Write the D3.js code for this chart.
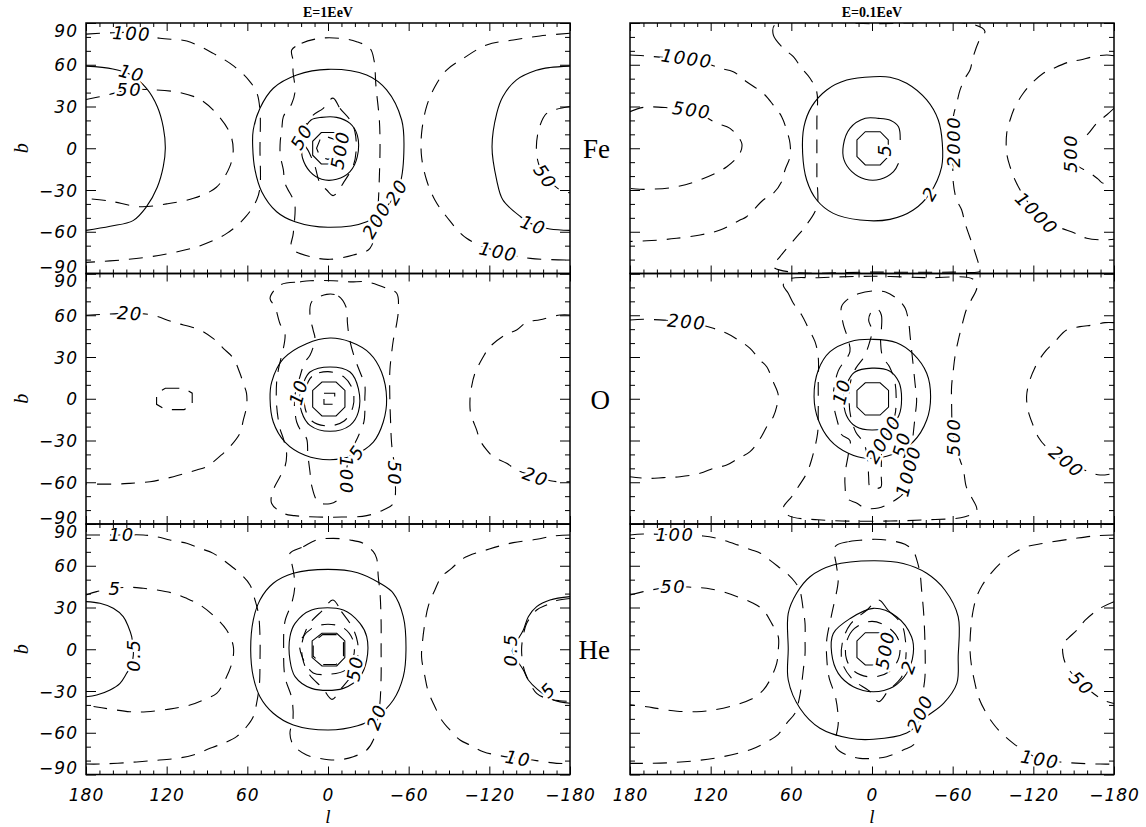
<!DOCTYPE html>
<html><head><meta charset="utf-8">
<script src="https://cdn.jsdelivr.net/npm/d3@7"></script>
<style>
body{margin:0;background:#fff;}
</style></head><body>
<svg id="c" width="1146" height="827" xmlns="http://www.w3.org/2000/svg"></svg>
<script>
// ---------------- data ----------------
const lTicks=[180,120,60,0,-60,-120,-180];
const bTicks=[90,60,30,0,-30,-60,-90];
const energies=["E=1EeV","E=0.1EeV"];
const species=["Fe","O","He"];

// contour lines: dash=true -> dashed quantity; pts in (l, b) degrees
const fe1=[
 {dash:false,closed:false,pts:[[180,59],[160,57],[147,53],[135,43],[127,30],[122.5,15],[121,0],[122.5,-13],[127,-28],[135,-42],[145,-52],[162,-56],[180,-59]]},
 {dash:true,closed:false,pts:[[180,35],[165,38],[148,42],[130,42],[110,40],[95,35],[83,25],[73,11],[70.5,-1],[73,-13],[83,-28],[100,-36],[120,-40],[140,-42],[162,-38],[180,-36]]},
 {dash:true,closed:false,pts:[[180,82],[160,83],[146,83],[125,79],[105,77],[85,68],[70,59],[59,49],[53,40],[50.6,27],[50.6,0],[50.6,-28],[53,-37],[61,-49],[75,-61],[95,-70],[120,-76],[150,-80],[180,-82]]},
 {dash:false,closed:false,pts:[[-180,59],[-165,58],[-155,56],[-140,49],[-130,37],[-125.5,25],[-122,1],[-125.5,-23],[-130,-37],[-143,-49],[-153,-55],[-165,-58],[-180,-59]]},
 {dash:true,closed:false,pts:[[-180,30],[-170,28],[-162.6,25],[-157.4,15.5],[-155,1],[-156.6,-11],[-161.5,-20],[-172.6,-30],[-180,-32]]},
 {dash:true,closed:false,pts:[[-180,82.6],[-157.7,80.7],[-137.8,77.8],[-118,74.2],[-100.6,64.6],[-88.2,56.2],[-79.5,44.2],[-73.3,29.9],[-69.6,10.7],[-69.6,-6.1],[-73.3,-22.8],[-79.5,-37.2],[-88.2,-49.2],[-103.1,-64.7],[-126.7,-74.3],[-150.5,-79.1],[-180,-80.3]]},
 {dash:false,closed:true,pts:[[0,56.7],[23.3,52.6],[40.7,43.1],[50.6,28.7],[55.6,13.1],[56,1],[54.3,-15.6],[49.3,-31.2],[38.2,-45.6],[24.5,-52.8],[0,-56.8],[-28.8,-52.8],[-43.6,-42],[-53.6,-25.2],[-56.5,1],[-54.8,20.3],[-43.6,41.9],[-28.8,52.6]]},
 {dash:true,closed:true,pts:[[27,70.6],[19.6,75.4],[6,79],[-8.9,79],[-21.3,76.6],[-31.2,71.8],[-34.2,63.4],[-35.7,44.2],[-38.2,20.3],[-38.7,1],[-38.2,-20.4],[-37.5,-37.2],[-36.2,-51.6],[-31.2,-71.9],[-18.8,-76.7],[-1.5,-79.8],[10.9,-78.4],[27,-71.9],[25.8,-61],[24.5,-42],[25.8,-37],[32,-25],[33.2,-15.6],[35.5,-5],[35.5,5],[34.4,13],[33.2,22.7],[27,32],[24.5,41],[26,55],[26,63]]},
 {dash:true,closed:true,pts:[[-3.7,36],[-8.9,28.7],[-16.4,20.3],[-20,12],[-21,0],[-19,-12],[-12,-24],[-4,-34],[1,-30],[6,-25],[9.7,-13],[14,-3],[19.6,8],[12.2,22.7],[3.5,28.7]]},
 {dash:false,closed:true,pts:[[4.7,22.2],[-6.4,22.2],[-16.4,17.9],[-21.8,9.5],[-21.8,-6.1],[-16.4,-16.8],[-6.4,-22.3],[4.7,-22.3],[13.4,-16.8],[18.9,-7.2],[19.6,1.1],[18,12],[12.6,20.3]]},
 {dash:false,closed:true,pts:[[5,11.3],[-5,11.3],[-11.4,5],[-11.4,-5],[-5,-11.3],[5,-11.3],[11.4,-5],[11.4,5]]},
 {dash:true,closed:true,pts:[[0,8],[-6,6],[-8.5,0],[-6,-6],[0,-8],[6,-6],[8.5,0],[6,6]]}
];
const fe1Labels=[["100",146,82.5,3],["10",146,54,15],["50",147.8,41.9,0],["50",19.6,8.3,-60],["500",-8.9,-1.3,-80],["200",-36.2,-51.6,-60],["20",-51.1,-31.2,-60],["50",-161.5,-20.4,55],["10",-152.7,-55.2,20],["100",-126.7,-74.3,12]];

const fe01=[
 {dash:true,closed:false,pts:[[180,67],[170,66.5],[158,65.5],[137.8,64.6],[120,60],[113,57.4],[103.2,55],[93.3,47.8],[80.9,39.5],[73.4,31],[67.2,22.7],[63.5,13],[61,3.6],[61,-6],[64.7,-15.6],[67.2,-24],[73.4,-32.4],[80.9,-37.2],[93.3,-49.2],[98.2,-51.6],[113,-58.8],[127.9,-62.3],[145.3,-64.7],[157.7,-65.9],[180,-67]]},
 {dash:true,closed:false,pts:[[180,26.3],[170,29.4],[150,29],[134,27.5],[115.5,18],[105.6,14.3],[96.9,3.6],[98.2,-3.6],[108,-13.3],[128,-22.8],[148,-28.1],[172.6,-29.5],[180,-28.8]]},
 {dash:true,closed:true,pts:[[72,89],[73.4,81.4],[66,71.8],[58.5,65.8],[52.3,57.4],[46.1,50.3],[41.1,40.6],[41,20],[41,0],[41,-20],[41,-42],[49.8,-56.4],[54.8,-62.3],[62.3,-70.7],[68.4,-77.9],[73.4,-85],[60,-89],[0,-89],[-60,-89],[-81,-88],[-79,-82],[-75,-70],[-69.2,-53.9],[-66.7,-44.4],[-63,-37.2],[-60.5,-25],[-60.4,5],[-60.5,22.7],[-63,32.3],[-65.5,41.9],[-69.2,50.3],[-72.9,56.2],[-75.3,65.8],[-80,78],[-84,84],[-75,89],[0,89.5]]},
 {dash:false,closed:true,pts:[[-1,51.4],[18.8,49],[33.7,41.9],[44.9,29.9],[50.6,15.5],[51.6,-3.6],[48.6,-22.8],[41.1,-37.2],[28.8,-46.8],[8.9,-51.6],[-13.4,-51.1],[-30.7,-44.4],[-43.1,-32.4],[-51.8,-13.3],[-52.3,3.6],[-49.3,20.3],[-40.7,34.7],[-25.8,46.7],[-13.4,51]]},
 {dash:false,closed:false,pts:[[-21,6],[-19.7,15.5],[-14,20],[-4.7,21.5],[5,21.5],[16.4,14.3],[21.3,2.3],[20.8,-8.4],[15,-16.8],[5,-22.3],[-6.1,-22.3],[-16,-16.8],[-19.7,-10.8]]},
 {dash:false,closed:true,pts:[[5,11.9],[-6.1,11.9],[-12.1,6],[-12.1,-6],[-6.1,-12],[5,-12],[11.2,-6],[11.2,6]]},
 {dash:true,closed:false,pts:[[-180,66.5],[-174.5,67],[-164.6,65.8],[-154.7,63.4],[-147.3,62.2],[-134.9,57.4],[-127.4,53.9],[-117.5,45.4],[-112.5,39.5],[-106.4,29.9],[-102.7,20.3],[-100.2,10.7],[-100.2,-3.6],[-102.7,-13.3],[-106.4,-22.8],[-112,-33],[-122.5,-46.8],[-135,-55],[-151,-61.1],[-159.7,-64.7],[-171.9,-65.9],[-180,-65.4]]},
 {dash:true,closed:false,pts:[[-180,28.7],[-174.5,23.9],[-167,17.9],[-161,10.7],[-152,3],[-147.3,-3.6],[-152,-12],[-161,-17],[-168,-22],[-172,-25.2],[-180,-22]]}
];
const fe01Labels=[["1000",137.8,64.6,8],["500",134.1,27.5,8],["5",-9.6,-1.3,-90],["2",-43.1,-32.4,-60],["2000",-60.4,4.7,-90],["500",-147.3,-3.6,-90],["1000",-122.5,-46.8,45]];

const o1=[
 {dash:true,closed:false,pts:[[180,60],[170,60.5],[147.3,61.4],[131.2,60.2],[115,55],[95.2,49.4],[85,43],[77.9,36.2],[70.4,29.1],[65.5,18.3],[63,11.1],[60.6,3.9],[60.6,-5.7],[63,-15.3],[65.5,-24.8],[72.9,-34.5],[77.9,-39.2],[90.3,-48.8],[97.7,-51.2],[115,-56],[132.4,-59.6],[147.3,-60.8],[157.2,-61.3],[180,-61.3]]},
 {dash:true,closed:true,pts:[[121,7.5],[107,7.5],[101,4],[101,-5],[107,-7.8],[121,-7.8],[127.5,-4],[127.5,4]]},
 {dash:true,closed:false,pts:[[-180,60.2],[-172.6,60.2],[-157.7,56.8],[-147.8,55],[-140.3,49.4],[-131.6,45.8],[-120.5,37.4],[-115.5,30.2],[-109.3,18.3],[-106.8,8.7],[-105.6,-1],[-106.1,-10.5],[-110.6,-22.5],[-113,-29.7],[-118,-36.8],[-122.9,-41.6],[-132.9,-46.4],[-140.3,-51.2],[-154.5,-56],[-170,-59.6],[-180,-59.6]]},
 {dash:false,closed:true,pts:[[-1.5,43.6],[16,39.6],[33.2,28.8],[41.9,12],[43.1,0],[40.7,-16.7],[32,-31.1],[17.1,-40.6],[-1.5,-43.8],[-18.8,-40.6],[-33.7,-31.1],[-41.1,-16.7],[-43.6,0],[-39.8,19.2],[-31.2,32.5],[-16.4,40.9]]},
 {dash:false,closed:true,pts:[[-1.5,22.8],[13.4,19.2],[18.4,11],[20.8,2.5],[19.6,-9.5],[13.4,-19.1],[-1.5,-23.4],[-16.4,-19.1],[-22.6,-9.5],[-22.6,7.2],[-16.4,19.2]]},
 {dash:false,closed:true,pts:[[4.5,12],[-6,12],[-12.6,6],[-12.6,-6],[-6,-12.4],[4.5,-12.4],[11.4,-6],[11.4,6]]},
 {dash:true,closed:true,pts:[[3,4],[-5,4],[-5,-4],[3,-4]]},
 {dash:true,closed:true,pts:[[35.7,81.7],[20.8,84],[13.4,84.8],[-3.9,84.8],[-16.4,84],[-28.8,84],[-43.6,79.4],[-51.1,75.8],[-52.3,63.8],[-51.1,54.2],[-48.6,42.2],[-47.3,32.6],[-46,20],[-46,0],[-46.5,-15],[-47.3,-32],[-49.8,-53.6],[-48.6,-75.1],[-41.1,-79.9],[-28.8,-84],[-10,-85],[8,-85],[25,-84],[33.2,-82.3],[42,-75.1],[40.7,-65.6],[35.7,-56],[32,-48.8],[30.8,-39.2],[33.2,-28.7],[35.7,-21.5],[38.2,-5],[38.2,12],[37,20.4],[32,46.8],[35.7,53.9],[39.4,66.1],[43.1,72.2]]},
 {dash:true,closed:true,pts:[[1,75],[-7.7,73.8],[-13.9,64.7],[-14.4,55.1],[-16,43],[-20,28.8],[-23.8,19.2],[-27.4,9.7],[-27.4,0],[-27.4,-9.5],[-26.7,-16.7],[-22,-28],[-17,-38],[-13.9,-50],[-12,-62],[-8,-72],[-1.5,-75.4],[7.2,-74.2],[12.2,-62.2],[13.4,-52.6],[15,-40],[15.9,-28.7],[19.6,-23.9],[23.3,-16.7],[24.5,-9.5],[25,0],[22,12],[17.1,26.4],[13.4,31.2],[9.7,43.2],[11,49.2],[13.4,59.9],[12.2,69.5]]},
 {dash:true,closed:true,pts:[[0,19.5],[12,16],[17,5],[17,-7],[12,-16],[0,-19.5],[-12,-16],[-18.5,-6],[-18.5,6],[-12,15.5]]}
];
const o1Labels=[["20",147.3,61.4,3],["20",-154.5,-56,20],["10",22,4.8,-75],["5",-21.3,-38.3,-55],["100",-13.9,-55,90],["50",-49.8,-53.6,90]];

const o01=[
 {dash:true,closed:false,pts:[[180,56.6],[170.1,57.1],[155,56.5],[137.8,55.4],[118,50.6],[108.1,47],[99.4,42.2],[90.7,36.2],[83.3,27.8],[78.3,23],[73.4,12],[69.7,2.5],[70.9,-5.7],[73.4,-12.9],[78.3,-20.1],[83.3,-28.8],[90.7,-38],[99.4,-42.8],[108.1,-47.6],[118,-50],[127.9,-53.6],[142.8,-56],[155.2,-56.7],[167.6,-57.2],[180,-56]]},
 {dash:true,closed:false,pts:[[-180,54.7],[-173.3,54.7],[-164.6,53],[-154.7,51.8],[-144.7,49.4],[-136,41],[-128,33],[-121,22],[-117,12],[-115,2],[-116,-8],[-119,-17],[-124,-28],[-130,-35],[-144.7,-45.2],[-160,-52],[-169.6,-54.8],[-180,-53.6]]},
 {dash:false,closed:true,pts:[[-1,42.7],[16.4,41],[31.2,33.8],[39.9,20.7],[43.1,1.5],[39.9,-15.3],[31.2,-29.7],[17.6,-39.2],[3.9,-42.8],[-15,-40],[-30.7,-30.9],[-40.7,-15.3],[-43.6,1.5],[-40.7,18.3],[-30.7,32.2],[-18.3,40.3]]},
 {dash:false,closed:true,pts:[[0,22],[13,19],[19,10],[21,0],[19,-12],[12,-20],[0,-22.5],[-13,-20],[-20,-12],[-22,0],[-20,12],[-13,20]]},
 {dash:false,closed:true,pts:[[5,11.5],[-6,11.5],[-12.3,6],[-12.3,-6],[-6,-11.7],[5,-11.7],[11.2,-6],[11.2,6]]},
 {dash:true,closed:true,pts:[[66,81.7],[62.3,75.8],[58.5,68.6],[52.3,60.2],[47.3,50.6],[42.4,41],[40,30],[40,10],[40,-10],[40.5,-25],[45,-44],[48.6,-53.6],[54.8,-63.2],[59.8,-70.4],[66,-78.7],[62,-84],[40,-87],[0,-88],[-40,-87],[-69.2,-84.8],[-77.9,-80],[-73.8,-70.4],[-70.1,-63.2],[-68,-51.2],[-65.5,-44],[-60.4,-27.4],[-59.2,-3.3],[-59.2,8.7],[-60.5,20.7],[-61.7,30.2],[-64.2,42.2],[-66.7,51.8],[-70.1,63.8],[-73.8,71],[-78,80],[-75,86],[-40,87],[0,88],[40,87],[62,86]]},
 {dash:true,closed:true,pts:[[17.6,71.8],[10.2,75.4],[-0.2,77.4],[-10.1,76.7],[-19.7,71],[-24.7,65],[-27.2,55.4],[-28.4,44.6],[-30,30],[-32,11.1],[-33.2,-1],[-32,-13],[-30.7,-25],[-29,-40],[-28.3,-53.6],[-23.3,-68],[-14.6,-74.3],[-4.7,-78.5],[5.2,-78.5],[11.2,-75.1],[18.6,-71.5],[20,-63.2],[20,-53.6],[17.6,-40],[16.4,-30],[22.7,-25.7],[25.1,-18.5],[28.8,-3.3],[28.8,3.9],[25.1,20],[16.4,33.8],[17.6,42.2],[21.5,54.2],[22.7,66.1]]},
 {dash:true,closed:true,pts:[[-4.5,64],[-7,60],[-7,50],[-6.4,41],[-8,30],[-13,23],[-17,12],[-18,0],[-17,-12],[-13,-22],[-8,-30],[-7,-45],[-6.9,-56],[-6.5,-63.6],[1.3,-63.6],[2.5,-56],[3,-45],[6,-32],[12,-24],[16,-12],[17,0],[16,12],[12,22],[6,30],[2,40],[0,49.4],[2.5,56.6],[0,63]]}
];
const o01Labels=[["200",137.8,55.4,5],["200",-144.7,-45.2,40],["10",22.7,5.1,-75],["2000",-8.4,-29,-60],["50",-22,-33,-75],["1000",-27,-52,-75],["500",-60.4,-27.4,-90]];

const he1=[
 {dash:true,closed:false,pts:[[180,82.1],[169.6,82.1],[153.5,82.1],[137.4,82.1],[127.5,80.9],[117.5,78.5],[105.1,76.1],[95.2,72.5],[85.3,68.9],[75,62],[64.2,53.4],[58,46.2],[54.3,35.4],[51.8,25.8],[50.6,10],[50.6,-10],[51,-25],[53.1,-38.8],[55.6,-48.5],[60.6,-55.7],[68,-62.8],[77.9,-67.6],[87.8,-71.2],[100.2,-76],[112.5,-78.4],[130,-80],[150,-81.5],[169.6,-82.5],[180,-82.5]]},
 {dash:true,closed:false,pts:[[180,39],[172.1,41.4],[158.4,43.8],[147.3,44.5],[137.4,43.8],[127.5,42.6],[115,40.2],[105.1,36.6],[95.2,31.8],[85,24],[75.4,13.8],[70.4,1.8],[71.5,-10],[77.9,-24.5],[82.8,-31.7],[92.8,-36.5],[102.6,-40.1],[118,-43],[134.9,-44.9],[147.3,-44.9],[162,-43],[172,-41.5],[180,-40.1]]},
 {dash:false,closed:false,pts:[[180,34.2],[169.6,33],[159.7,29.4],[152.3,23.4],[148.5,16.2],[146,9],[144.8,-4.2],[146.5,-12],[149.8,-17.3],[154.7,-24.5],[162.1,-29.3],[172,-32.9],[180,-34.1]]},
 {dash:false,closed:true,pts:[[0,57.4],[25.8,54.6],[40.7,47.4],[50.6,35.4],[55.6,21],[57.5,-0.5],[55.6,-19.7],[50.6,-34.1],[40.7,-46],[25.8,-54.4],[0,-58],[-22,-55],[-36.2,-48.5],[-48.6,-36.5],[-56,-19.7],[-58,-0.5],[-56,23.4],[-48.6,40.2],[-38.7,47.4],[-22,55]]},
 {dash:false,closed:true,pts:[[12.2,28.2],[-11.4,28.2],[-23.8,18.6],[-28.8,9],[-28.8,-7.7],[-23.8,-19.7],[-11.4,-28.1],[12.2,-28.1],[24.5,-19.7],[28.3,-7.7],[28.3,9],[24.5,18.6]]},
 {dash:false,closed:true,pts:[[4.5,11.5],[-6.5,11.5],[-12.5,6],[-12.5,-6],[-6.5,-12],[4.5,-12],[11.8,-6],[11.8,6]]},
 {dash:true,closed:true,pts:[[4,10.5],[-6,10.5],[-11.5,5],[-11.5,-5],[-6,-11],[4,-11],[11,-5],[11,5]]},
 {dash:true,closed:true,pts:[[0,18],[-12,15],[-18.8,6],[-19,-5],[-13,-15],[0,-18],[11,-17],[19,-6],[20.8,5],[12,15]]},
 {dash:true,closed:true,pts:[[-3.7,35.4],[-10,27],[-18,16],[-22,5],[-22,-6],[-18,-18],[-10,-28],[-3,-36],[4,-28],[14,-18],[19,-6],[19,6],[14,18],[4,28]]},
 {dash:true,closed:true,pts:[[28.3,68.9],[18.4,73.7],[8.4,78.5],[-3.9,79.7],[-16.4,78.5],[-26.3,76.1],[-33.7,70.1],[-36.2,65.3],[-37.4,52.1],[-38.7,40.2],[-39.5,20],[-39.5,0],[-39.5,-20],[-38.5,-40],[-36,-55],[-33.7,-65.2],[-28.8,-72.4],[-18.8,-77.2],[-6.3,-79.6],[6,-78.4],[15.9,-76],[25.8,-68.8],[28.3,-60.5],[26,-50],[27,-35],[32,-20],[33,0],[32,20],[27,33],[24.8,43.8],[25.3,53.4],[27,62]]},
 {dash:true,closed:false,pts:[[-180,82.1],[-167.6,81.4],[-155.2,79],[-137.8,76.6],[-120,72],[-100.6,65.3],[-91.9,58.1],[-84.5,52.1],[-79.5,42.6],[-74.6,31],[-72.1,19],[-70.4,6.5],[-69.6,-5.5],[-72.1,-19.7],[-74.6,-30.5],[-79.5,-41.3],[-84.5,-50.8],[-90.7,-58],[-98.2,-65.2],[-105.6,-68.8],[-115.5,-73.6],[-128,-76.5],[-141.5,-78.4],[-155,-80],[-170,-82],[-180,-82]]},
 {dash:false,closed:false,pts:[[-180,37.8],[-165.1,35.4],[-155.2,30.6],[-149,23.4],[-145.3,13.8],[-140,5],[-137,-1],[-140,-7],[-145.3,-14.9],[-149,-22.1],[-156,-29],[-167.6,-36.5],[-180,-38.8]]},
 {dash:true,closed:false,pts:[[-180,36.5],[-170,35],[-162.6,31.8],[-155.2,28.2],[-147.8,18.6],[-145.3,10.2],[-144,0],[-145.3,-12.5],[-147.8,-19.7],[-155.2,-31.7],[-162.6,-35.3],[-172,-37],[-180,-37.5]]}
];
const he1Labels=[["10",153.5,82.1,0],["5",158.4,43.8,0],["0.5",144.8,-4.2,-90],["50",-20,-13.7,-80],["20",-36.2,-48.5,-70],["0.5",-136,-0.5,-90],["5",-163.9,-29.3,-45],["10",-141.5,-78.4,10]];

const he01=[
 {dash:true,closed:false,pts:[[180,82.1],[170.1,82.8],[146.5,82.1],[125.5,81.4],[115.5,79.7],[100,75],[90,71.5],[83,69],[76,64],[69.7,59.3],[63.5,54.6],[57,48],[53.6,42],[51.1,28],[49.8,18.4],[49.8,6.4],[49.8,-3.2],[51.1,-14.9],[52.3,-24.5],[54,-35],[57.3,-46],[63.5,-53.2],[69.7,-61.1],[77.1,-65.9],[90,-72],[110,-77],[130,-80],[150,-81.5],[170,-82],[180,-82]]},
 {dash:true,closed:false,pts:[[180,39],[170.1,41.4],[147.8,45],[132.9,44.5],[123,43.8],[110,41],[98,37],[88.3,33],[80.9,28.2],[74.6,18.6],[69.7,9],[69.7,-0.5],[70.9,-10.1],[75.9,-22.1],[80.9,-29.3],[90,-36],[105,-41],[118,-43.7],[130.4,-44.9],[145,-44.5],[160,-42.5],[167.6,-41.3],[180,-40]]},
 {dash:false,closed:true,pts:[[-1,63.6],[28.8,60.5],[46.1,52.1],[56.1,40.2],[62.3,25.8],[62.3,0],[62.3,-22.1],[53.6,-42.4],[38.7,-56.8],[16.4,-64],[-1,-64.7],[-25.8,-60.2],[-40.7,-48.3],[-53.2,-38.9],[-63.1,-24.5],[-64.1,-5.3],[-64.1,23.4],[-54.2,42.6],[-40.7,54.6],[-23.2,61.6]]},
 {dash:false,closed:true,pts:[[-1,29.4],[16.4,22],[28.8,11.4],[30,-3],[25.1,-17.3],[13.9,-26.9],[-1,-30.5],[-15.9,-26.9],[-25.8,-17.3],[-30.7,-3],[-29.4,9],[-18.3,23.4]]},
 {dash:false,closed:true,pts:[[5,11.9],[-6,11.9],[-12.3,6],[-12.3,-6],[-6,-11.3],[5,-11.3],[11.2,-6],[11.2,6]]},
 {dash:true,closed:true,pts:[[0,20],[13,15],[19,5],[19,-7],[13,-16],[0,-20],[-13,-16],[-20,-6],[-20,6],[-13,15]]},
 {dash:true,closed:true,pts:[[-5,35.4],[-12,28],[-22,18],[-25,5],[-25,-8],[-22,-20],[-12,-30],[-5,-37.7],[2,-30],[14,-22],[22,-10],[22,5],[16,18],[4,28]]},
 {dash:true,closed:true,pts:[[27.5,73.7],[17.6,77.3],[8.9,78.3],[-2.2,79],[-12.1,78.3],[-24.5,75.4],[-30.7,70.6],[-33.2,64.6],[-35.7,54.6],[-36.9,42.6],[-38.5,25],[-39.5,0],[-39.4,-19.7],[-38.2,-29.3],[-35.7,-46],[-32,-67.6],[-23.2,-72.4],[-10.9,-77.2],[-1,-78.4],[8.9,-78.4],[18.8,-76],[26.3,-71.2],[27.5,-67.6],[25.1,-53.2],[27,-35],[32,-20],[33.7,-5.6],[33.7,6.4],[30,25],[25.1,49.7],[26.3,59.3]]},
 {dash:true,closed:false,pts:[[-180,82.1],[-167,81.6],[-150,79.5],[-127.4,76.1],[-115,73.7],[-105.1,68.9],[-95.2,61.6],[-88,54],[-82,46],[-77.9,37.8],[-75.3,28.2],[-73.5,15],[-72.9,-0.5],[-74.1,-12.5],[-76.6,-24.5],[-79.1,-34.1],[-85,-46],[-89.9,-53.2],[-95.2,-59.2],[-105.1,-67.6],[-115,-74],[-125,-79],[-140,-81],[-155,-82],[-169.6,-82.5],[-180,-82.5]]},
 {dash:true,closed:false,pts:[[-180,34.2],[-169.6,29.4],[-158.4,20.7],[-153.4,14.7],[-146,8],[-142.3,4.3],[-142.3,-5.3],[-146,-14],[-155.9,-24.5],[-165,-32],[-172,-36.5],[-180,-39]]}
];
const he01Labels=[["100",146.5,82.1,0],["50",147.8,45,0],["500",-9.6,-0.5,-80],["2",-27,-12.5,-70],["200",-35.7,-46,-65],["50",-155.9,-24.5,45],["100",-125,-79,10]];

const panelContours=[[fe1,fe01],[o1,o01],[he1,he01]];
const panelLabels=[[fe1Labels,fe01Labels],[o1Labels,o01Labels],[he1Labels,he01Labels]];

// ---------------- layout ----------------
const colX=[86,630], pw=484, rowY=[23,273.5,524], ph=250.5;
const svg=d3.select("#c");
const defs=svg.append("defs");
const tickFont="'DejaVu Sans', sans-serif";
const minorL=d3.range(-170,180,10).filter(v=>v%60!==0);
const minorB=d3.range(-80,90,10).filter(v=>v%30!==0);
const fmt=d=>d3.format("d")(d);

rowY.forEach((y0,r)=>colX.forEach((x0,c)=>{
  const x=d3.scaleLinear().domain([180,-180]).range([x0,x0+pw]);
  const y=d3.scaleLinear().domain([90,-90]).range([y0,y0+ph]);
  const id=`clip${r}${c}`;
  defs.append("clipPath").attr("id",id).append("rect").attr("x",x0).attr("y",y0).attr("width",pw).attr("height",ph);
  const g=svg.append("g");
  const cg=g.append("g").attr("clip-path",`url(#${id})`);
  panelContours[r][c].forEach(ct=>{
    const cv=ct.closed?(ct.pts.length<=8?d3.curveLinearClosed:d3.curveCatmullRomClosed.alpha(0.5)):d3.curveCatmullRom.alpha(0.5);
    const line=d3.line().x(d=>x(d[0])).y(d=>y(d[1])).curve(cv);
    cg.append("path").attr("d",line(ct.pts)).attr("fill","none").attr("stroke","#000")
      .attr("stroke-width",1.1).attr("stroke-dasharray",ct.dash?"14,10":null);
  });
  // contour labels
  panelLabels[r][c].forEach(([t,l,b,a])=>{
    cg.append("text").attr("transform",`translate(${x(l)},${y(b)}) rotate(${a})`)
      .attr("text-anchor","middle").attr("dy","0.36em")
      .style("font-family",tickFont).style("font-style","italic").style("font-size","18px")
      .style("letter-spacing","1.5px")
      .attr("stroke","#fff").attr("stroke-width",5).attr("paint-order","stroke").attr("fill","#000")
      .text(t);
  });
  // axes (ticks inward on all four sides)
  const mk=(axis,sc,vals,len,tx,ty)=>{
    const a=g.append("g").attr("transform",`translate(${tx},${ty})`)
      .call(axis(sc).tickValues(vals).tickSize(len).tickFormat(""));
    a.select(".domain").remove();
    a.selectAll("line").attr("stroke","#000").attr("stroke-width",1);
  };
  mk(d3.axisBottom,x,lTicks,-8,0,y0+ph); mk(d3.axisBottom,x,minorL,-4,0,y0+ph);
  mk(d3.axisTop,x,lTicks,-8,0,y0); mk(d3.axisTop,x,minorL,-4,0,y0);
  mk(d3.axisLeft,y,bTicks,-10,x0,0); mk(d3.axisLeft,y,minorB,-5,x0,0);
  mk(d3.axisRight,y,bTicks,-10,x0+pw,0); mk(d3.axisRight,y,minorB,-5,x0+pw,0);
  g.append("rect").attr("x",x0).attr("y",y0).attr("width",pw).attr("height",ph)
    .attr("fill","none").attr("stroke","#000").attr("stroke-width",1.5);
  // tick labels
  if(c===0){
    const ax=g.append("g").attr("transform",`translate(${x0},0)`)
      .call(d3.axisLeft(y).tickValues(bTicks).tickSize(0).tickPadding(8).tickFormat(fmt));
    ax.select(".domain").remove();
    ax.selectAll("text").style("font-family",tickFont).style("font-style","italic").style("font-size","17px")
      .style("letter-spacing","1px")
      .attr("dy",d=>d===90?"0.78em":d===-90?"-0.05em":"0.36em");
    g.append("text").attr("transform",`translate(22,${y(0)}) rotate(-90)`).attr("text-anchor","middle")
      .attr("dy","0.3em").style("font-family","'Liberation Serif',serif").style("font-style","italic").style("font-size","20px").text("b");
    g.append("text").attr("x",610).attr("y",y(0)+10).attr("text-anchor","end")
      .style("font-family","'Liberation Serif',serif").style("font-size","27px").text(species[r]);
  }
  if(r===2){
    const ax=g.append("g").attr("transform",`translate(0,${y0+ph})`)
      .call(d3.axisBottom(x).tickValues(lTicks).tickSize(0).tickPadding(14).tickFormat(fmt));
    ax.select(".domain").remove();
    ax.selectAll("text").style("font-family",tickFont).style("font-style","italic").style("font-size","17px").style("letter-spacing","1px");
    g.append("text").attr("x",x(0)).attr("y",823).attr("text-anchor","middle")
      .style("font-family","'Liberation Serif',serif").style("font-style","italic").style("font-size","19px").text("l");
  }
  if(r===0){
    g.append("text").attr("x",x(0)).attr("y",17).attr("text-anchor","middle")
      .style("font-family","'Liberation Serif',serif").style("font-weight","bold").style("font-size","14px").text(energies[c]);
  }
}));
</script>
</body></html>
